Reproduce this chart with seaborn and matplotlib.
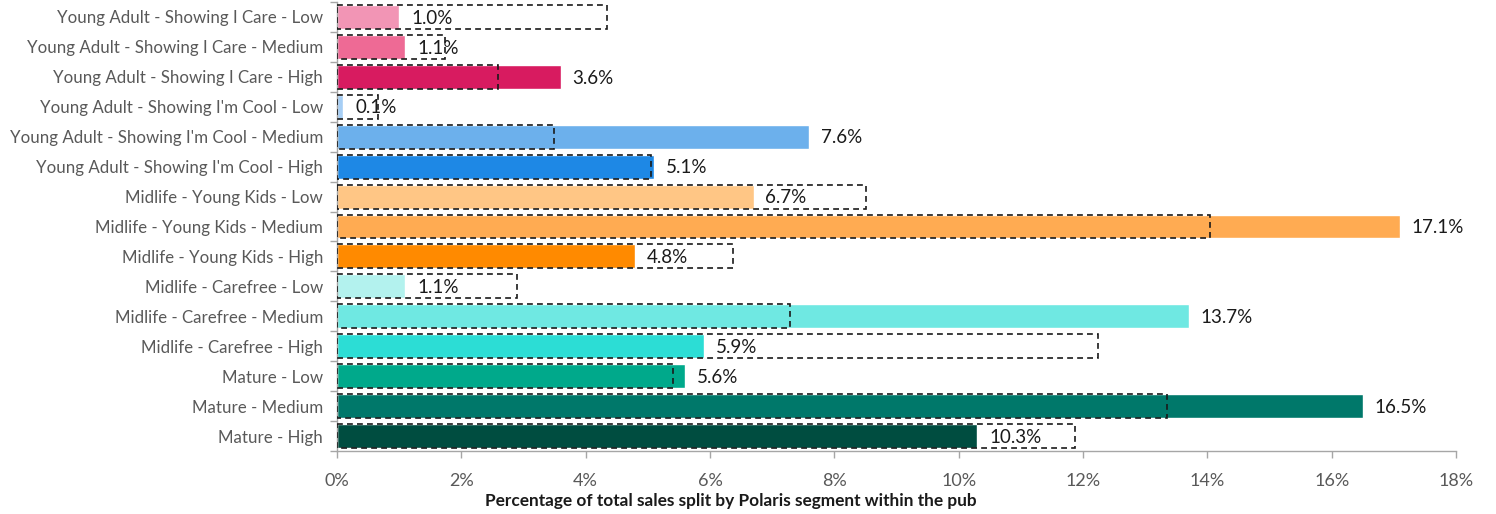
import matplotlib
matplotlib.use("Agg")
import matplotlib.pyplot as plt
import seaborn as sns
import pandas as pd
import numpy as np
from matplotlib.ticker import FixedLocator, PercentFormatter

segments = [
    "Young Adult - Showing I Care - Low",
    "Young Adult - Showing I Care - Medium",
    "Young Adult - Showing I Care - High",
    "Young Adult - Showing I'm Cool - Low",
    "Young Adult - Showing I'm Cool - Medium",
    "Young Adult - Showing I'm Cool - High",
    "Midlife - Young Kids - Low",
    "Midlife - Young Kids - Medium",
    "Midlife - Young Kids - High",
    "Midlife - Carefree - Low",
    "Midlife - Carefree - Medium",
    "Midlife - Carefree - High",
    "Mature - Low",
    "Mature - Medium",
    "Mature - High",
]
pub_share = [1.0, 1.1, 3.6, 0.1, 7.6, 5.1, 6.7, 17.1, 4.8, 1.1, 13.7, 5.9, 5.6, 16.5, 10.3]
benchmark_share = [4.34, 1.74, 2.59, 0.66, 3.49, 5.05, 8.51, 14.04, 6.37, 2.9, 7.29, 12.24, 5.4, 13.35, 11.87]
bar_colors = ["#F295B5", "#EE6A95", "#D81B60", "#A6CEF5", "#6CB0EC", "#1E88E5",
              "#FFC685", "#FFAB52", "#FF8A00", "#B3F2EE", "#6FE8E2", "#2CDDD5",
              "#00A98B", "#00786A", "#004D40"]
x_ticks = [0, 2, 4, 6, 8, 10, 12, 14, 16, 18]
x_label = "Percentage of total sales split by Polaris segment within the pub"

sns.set_theme(style="white")
plt.rcParams['font.family'] = ['Lato', 'DejaVu Sans']

df = pd.DataFrame({"segment": segments, "share": pub_share, "bench": benchmark_share})

fig = plt.figure(figsize=(14.96, 5.14), dpi=100)
ax = fig.add_axes([337/1496, 1 - 451/514, (1456-337)/1496, (451-2)/514])

sns.barplot(data=df, y="segment", x="share", hue="segment", palette=bar_colors,
            order=segments, hue_order=segments, legend=False, width=0.8,
            saturation=1, ax=ax, zorder=2)
sns.barplot(data=df, y="segment", x="bench", order=segments, fill=False,
            width=0.8, ax=ax, color="black", linewidth=1.2, zorder=3)
for p in ax.patches[len(segments):]:
    p.set_linestyle((0, (3.5, 2.5)))
    p.set_edgecolor("#1a1a1a")
    p.set_facecolor("none")

for i, v in enumerate(pub_share):
    ax.text(v + 0.19, i + 0.04, f"{v:.1f}%", va="center", ha="left", fontsize=13.5,
            color="#1a1a1a", zorder=4)

ax.set_xlim(0, 18)
ax.set_ylim(len(segments) - 0.5, -0.5)
ax.xaxis.set_major_locator(FixedLocator(x_ticks))
ax.xaxis.set_major_formatter(PercentFormatter(decimals=0))
ax.set_ylabel("")
ax.set_xlabel(x_label, fontsize=12.4, fontweight="bold", color="#1a1a1a")
ax.xaxis.set_label_coords((731-337)/1119, -0.093)

for s in ["top", "right"]:
    ax.spines[s].set_visible(False)
for s in ["left", "bottom"]:
    ax.spines[s].set_color("#a6a6a6")
    ax.spines[s].set_linewidth(1.0)

ax.tick_params(axis="x", which="major", bottom=True, length=5, width=1,
               color="#a6a6a6", labelsize=13, labelcolor="#595959", pad=11)
ax.tick_params(axis="y", which="major", left=False, length=0, labelsize=12.2,
               labelcolor="#595959", pad=10)
ax.yaxis.set_minor_locator(FixedLocator(np.arange(-0.5, len(segments), 1.0)))
ax.tick_params(axis="y", which="minor", left=True, length=5, width=1, color="#a6a6a6")

fig.savefig("out.png", dpi=100)
